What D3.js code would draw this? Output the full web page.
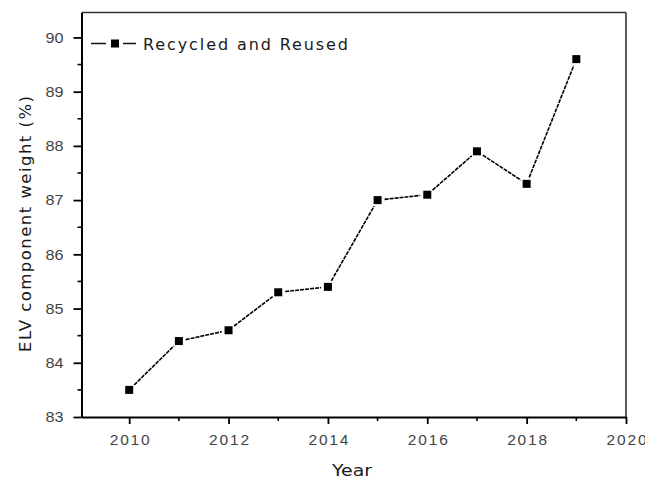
<!DOCTYPE html>
<html>
<head>
<meta charset="utf-8">
<script src="https://cdn.jsdelivr.net/npm/d3@7"></script>
<style>
  html, body { margin: 0; padding: 0; background: #fff; }
  svg { display: block; font-family: "DejaVu Sans", Verdana, sans-serif; }
</style>
</head>
<body>
<svg id="chart" width="645" height="481"></svg>
<script>
// Share of end-of-life vehicle component weight that was recycled and reused
const years = [2010, 2011, 2012, 2013, 2014, 2015, 2016, 2017, 2018, 2019];
const recycledReused = [83.5, 84.4, 84.6, 85.3, 85.4, 87.0, 87.1, 87.9, 87.3, 89.6];
const xTicks = [2010, 2012, 2014, 2016, 2018, 2020];
const yTicks = [83, 84, 85, 86, 87, 88, 89, 90];
const seriesName = "Recycled and Reused";

(function draw() {
  const svg = d3.select("#chart");
  const plotLeft = 81.5, plotRight = 626, plotTop = 12.5, plotBottom = 417;

  const x = d3.scaleLinear().domain([2009.04, 2020]).range([plotLeft, plotRight]);
  const y = d3.scaleLinear().domain([83, 90.46]).range([plotBottom, plotTop]);

  // frame: top and right edges
  svg.append("line").attr("x1", plotLeft).attr("x2", plotRight).attr("y1", plotTop).attr("y2", plotTop)
    .attr("stroke", "#333").attr("stroke-width", 1.6);
  svg.append("line").attr("x1", plotRight).attr("x2", plotRight).attr("y1", plotTop).attr("y2", plotBottom)
    .attr("stroke", "#333").attr("stroke-width", 1.6);

  // minor ticks
  const xMinor = d3.range(2011, 2020, 2);
  const yMinor = d3.range(83.5, 90.5, 1);
  svg.append("g").selectAll("line").data(xMinor).join("line")
    .attr("x1", d => x(d)).attr("x2", d => x(d)).attr("y1", plotBottom).attr("y2", plotBottom + 4)
    .attr("stroke", "#000").attr("stroke-width", 1.6);
  svg.append("g").selectAll("line").data(yMinor).join("line")
    .attr("y1", d => y(d)).attr("y2", d => y(d)).attr("x1", plotLeft).attr("x2", plotLeft - 4)
    .attr("stroke", "#000").attr("stroke-width", 1.6);

  // bottom axis
  const gx = svg.append("g").attr("transform", `translate(0,${plotBottom})`)
    .call(d3.axisBottom(x).tickValues(xTicks).tickFormat(d3.format("d")).tickSize(7).tickSizeOuter(0).tickPadding(10));
  gx.select(".domain").attr("stroke", "#000").attr("stroke-width", 2);
  gx.selectAll(".tick line").attr("stroke", "#000").attr("stroke-width", 1.8);
  gx.selectAll(".tick text").attr("fill", "#444").attr("font-size", 15.5)
    .attr("textLength", 40).attr("lengthAdjust", "spacing");

  // left axis
  const gy = svg.append("g").attr("transform", `translate(${plotLeft},0)`)
    .call(d3.axisLeft(y).tickValues(yTicks).tickFormat(d3.format("d")).tickSize(8).tickSizeOuter(0).tickPadding(10));
  gy.select(".domain").attr("stroke", "#000").attr("stroke-width", 2);
  gy.selectAll(".tick line").attr("stroke", "#000").attr("stroke-width", 1.8);
  gy.selectAll(".tick text").attr("fill", "#444").attr("font-size", 15)
    .attr("textLength", 18).attr("lengthAdjust", "spacingAndGlyphs");

  // axis titles
  svg.append("text").attr("x", 352).attr("y", 476).attr("text-anchor", "middle")
    .attr("font-size", 16).attr("fill", "#1a1a1a").attr("textLength", 40).attr("lengthAdjust", "spacingAndGlyphs")
    .text("Year");
  svg.append("text").attr("transform", "translate(31,224) rotate(-90)").attr("text-anchor", "middle")
    .attr("font-size", 16.5).attr("fill", "#1a1a1a").attr("textLength", 256).attr("lengthAdjust", "spacing")
    .text("ELV component weight (%)");

  // series line, broken around each marker
  const pts = years.map((yr, i) => [x(yr), y(recycledReused[i])]);
  const gap = 7;
  const segs = [];
  for (let i = 0; i < pts.length - 1; i++) {
    const [x0, y0] = pts[i], [x1, y1] = pts[i + 1];
    const len = Math.hypot(x1 - x0, y1 - y0);
    const ux = (x1 - x0) / len, uy = (y1 - y0) / len;
    segs.push([x0 + ux * gap, y0 + uy * gap, x1 - ux * gap, y1 - uy * gap]);
  }
  svg.append("g").selectAll("line").data(segs).join("line")
    .attr("x1", d => d[0]).attr("y1", d => d[1]).attr("x2", d => d[2]).attr("y2", d => d[3])
    .attr("stroke", "#000").attr("stroke-width", 1.6).attr("stroke-dasharray", "4,1");

  // markers
  const ms = 8;
  svg.append("g").selectAll("rect").data(pts).join("rect")
    .attr("x", d => d[0] - ms / 2).attr("y", d => d[1] - ms / 2)
    .attr("width", ms).attr("height", ms).attr("fill", "#000");

  // legend
  const ly = 43.5;
  const lg = svg.append("g");
  lg.append("line").attr("x1", 91).attr("x2", 106).attr("y1", ly).attr("y2", ly).attr("stroke", "#111").attr("stroke-width", 1.5);
  lg.append("line").attr("x1", 123).attr("x2", 136).attr("y1", ly).attr("y2", ly).attr("stroke", "#111").attr("stroke-width", 1.5);
  lg.append("rect").attr("x", 111).attr("y", ly - 4).attr("width", ms).attr("height", ms).attr("fill", "#000");
  lg.append("text").attr("x", 143).attr("y", ly + 6).attr("font-size", 16).attr("fill", "#1a1a1a")
    .attr("textLength", 205).attr("lengthAdjust", "spacing").text(seriesName);
})();
</script>
</body>
</html>
